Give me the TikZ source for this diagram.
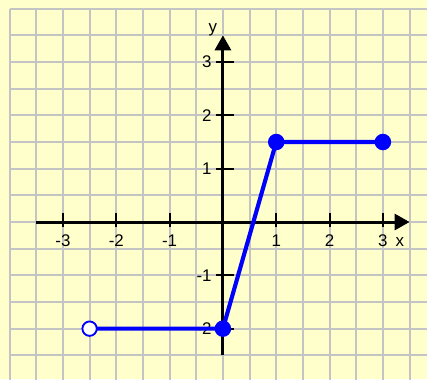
\documentclass[tikz,border=0pt]{standalone}
\usepackage{fontspec}
\setmainfont{Liberation Sans}
\usetikzlibrary{arrows.meta, positioning}
\definecolor{paper}{HTML}{FFFFCC}
\definecolor{gridline}{HTML}{C4C4C4}

\begin{document}
\begin{tikzpicture}[
    axis/.style={line width=1.6pt, -{Triangle[length=0.28cm, width=0.3cm]}},
    tick/.style={line width=1.1pt},
    graph/.style={blue, line width=2.2pt},
    closeddot/.style={circle, fill=blue, inner sep=0pt, minimum size=0.31cm},
    opendot/.style={circle, draw=blue, fill=white, line width=1pt, inner sep=0pt, minimum size=0.27cm},
    ticklabel/.style={font=\fontsize{9}{11}\selectfont, inner sep=1pt}]

    \useasboundingbox (-4.18,-2.944) rectangle (3.827,4.163);
    \fill[paper] (-4.18,-2.944) rectangle (3.827,4.163);
    \clip (-4.18,-2.944) rectangle (3.827,4.163);
    \draw[gridline, line width=1.05pt, step=0.5] (-4,-3.5) grid (4,4);

    % axes
    \coordinate (xmin) at (-3.5,0);
    \coordinate (xmax) at (3.5,0);
    \coordinate (ymin) at (0,-2.5);
    \coordinate (ymax) at (0,3.5);
    \draw[axis] (xmin) -- (xmax);
    \draw[axis] (ymin) -- (ymax);

    \foreach \x in {-3,-2,-1,1,2,3} {
      \draw[tick] (\x,-0.1) -- (\x,0.17);
      \node[ticklabel, anchor=base] (xlab\x) at (\x,-0.45) {\x};
    }
    \foreach \y in {-2,-1,1,2,3} {
      \draw[tick] (-0.13,\y) -- (0.2,\y);
      \node[ticklabel, anchor=east] (ylab\y) at (-0.17,\y) {\y};
    }
    \node[ticklabel, anchor=base] (xname) at (3.32,-0.45) {x};
    \node[ticklabel] (yname) at (-0.19,3.6) {y};

    % graph
    \coordinate (p1) at (-2.5,-2);
    \coordinate (p2) at (0,-2);
    \coordinate (p3) at (1,1.5);
    \coordinate (p4) at (3,1.5);
    \draw[graph] (p1) -- (p2) -- (p3) -- (p4);
    \node[opendot] (open1) at (p1) {};
    \node[closeddot] (dot2) at (p2) {};
    \node[closeddot] (dot3) at (p3) {};
    \node[closeddot] (dot4) at (p4) {};
\end{tikzpicture}
\end{document}
